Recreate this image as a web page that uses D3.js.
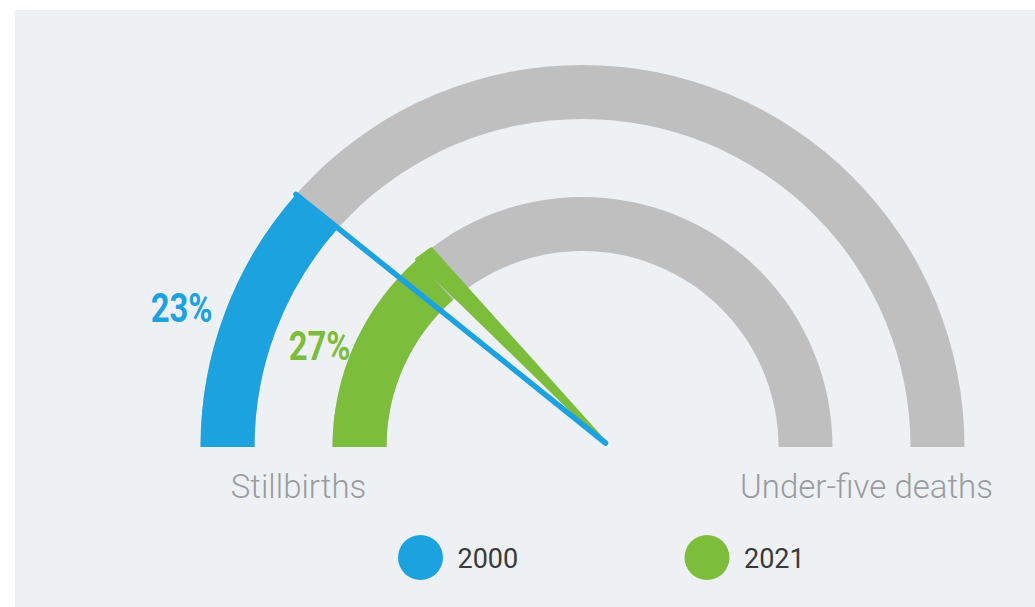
<!DOCTYPE html>
<html>
  <head>
    <meta charset="utf-8">
    <script src="https://d3js.org/d3.v7.min.js"></script>
    <style>
      body, html {
        margin: 0;
        width: 100%;
        height: 100%;
        background: #ffffff;
      }
      .end-label {
        font-family: Roboto, 'Open Sans', sans-serif;
        font-weight: 300;
        font-size: 33px;
        fill: #9a9ca0;
        text-anchor: middle;
      }
      .pct {
        font-family: Roboto, 'Liberation Sans', sans-serif;
        font-weight: bold;
        font-size: 41px;
        text-anchor: end;
      }
      .legend text {
        font-family: Roboto, 'Open Sans', sans-serif;
        font-size: 27px;
        fill: #3a3a3a;
      }
    </style>
  </head>
  <body>
    <div id="chart"></div>
    <script>
      // gauge ends, years, share of stillbirths (%)
      var ends = ["Stillbirths", "Under-five deaths"];
      var years = ["2000", "2021"];
      var shares = [23, 27];
      var colors = ["#1da2e0", "#7dbd3c"];

      var width = 1035, height = 607;
      var cx = 582.5, cy = 447;
      var rings = [{inner: 328, outer: 382}, {inner: 196, outer: 250}];
      var pivot = [cx + 23, cy - 4];

      var svg = d3.select("#chart")
        .append("svg")
        .attr("width", width)
        .attr("height", height);

      svg.append("rect")
        .attr("x", 15)
        .attr("y", 10)
        .attr("width", width - 15)
        .attr("height", height - 10)
        .attr("fill", "#eef1f4");

      var angle = d3.scaleLinear().domain([0, 100]).range([-Math.PI / 2, Math.PI / 2]);

      var g = svg.append("g").attr("transform", "translate(" + cx + "," + cy + ")");

      var arc = d3.arc();

      // grey background rings
      g.selectAll("path.bg")
        .data(rings)
        .enter()
        .append("path")
          .attr("class", "bg")
          .attr("fill", "#bfbfbf")
          .attr("d", d => arc({innerRadius: d.inner, outerRadius: d.outer,
                               startAngle: angle(0), endAngle: angle(100)}));

      // coloured share
      g.selectAll("path.val")
        .data(shares)
        .enter()
        .append("path")
          .attr("class", "val")
          .attr("fill", (d, i) => colors[i])
          .attr("d", (d, i) => arc({innerRadius: rings[i].inner, outerRadius: rings[i].outer,
                                    startAngle: angle(0), endAngle: angle(d)}));

      function tipPoint(v, r) {
        var a = angle(v);
        return [cx + r * Math.sin(a), cy - r * Math.cos(a)];
      }

      // 2021 needle: tapered wedge
      var p0 = tipPoint(shares[1], rings[1].outer);
      var dx = pivot[0] - p0[0], dy = pivot[1] - p0[1];
      var len = Math.sqrt(dx * dx + dy * dy);
      var nx = -dy / len, ny = dx / len;
      var w = 17;
      var b1 = [p0[0] - nx * w + dx / len * 3, p0[1] - ny * w + dy / len * 3];
      svg.append("path")
        .attr("fill", colors[1])
        .attr("stroke", colors[1])
        .attr("stroke-width", 4)
        .attr("stroke-linejoin", "round")
        .attr("d", d3.line()([p0, b1, pivot]) + "Z");

      // 2000 needle: thin line
      var q0 = tipPoint(shares[0], rings[0].outer);
      svg.append("line")
        .attr("x1", q0[0])
        .attr("y1", q0[1])
        .attr("x2", pivot[0])
        .attr("y2", pivot[1])
        .attr("stroke", colors[0])
        .attr("stroke-width", 5.5)
        .attr("stroke-linecap", "round");

      // percentage labels (condensed)
      var pctPos = [[cx - 370, cy - 125], [cx - 232, cy - 87]];
      svg.selectAll("text.pct")
        .data(shares)
        .enter()
        .append("text")
          .attr("class", "pct")
          .attr("transform", (d, i) => "translate(" + pctPos[i][0] + "," + pctPos[i][1] + ") scale(0.8,1)")
          .attr("fill", (d, i) => colors[i])
          .text(d => d + "%");

      // end labels
      var midR = (rings[0].inner + rings[0].outer + rings[1].inner + rings[1].outer) / 4 - 5;
      svg.selectAll("text.end-label")
        .data(ends)
        .enter()
        .append("text")
          .attr("class", "end-label")
          .attr("x", (d, i) => i === 0 ? cx - midR : cx + midR)
          .attr("y", cy + 51)
          .text(d => d);

      // legend
      var legend = svg.append("g").attr("class", "legend")
        .selectAll("g")
        .data(years)
        .enter()
        .append("g")
          .attr("transform", (d, i) => "translate(" + (420.5 + i * 286.5) + ",557.5)");
      legend.append("circle")
        .attr("r", 22.5)
        .attr("fill", (d, i) => colors[i]);
      legend.append("text")
        .attr("x", 37)
        .attr("y", 10)
        .text(d => d);
    </script>
  </body>
</html>
